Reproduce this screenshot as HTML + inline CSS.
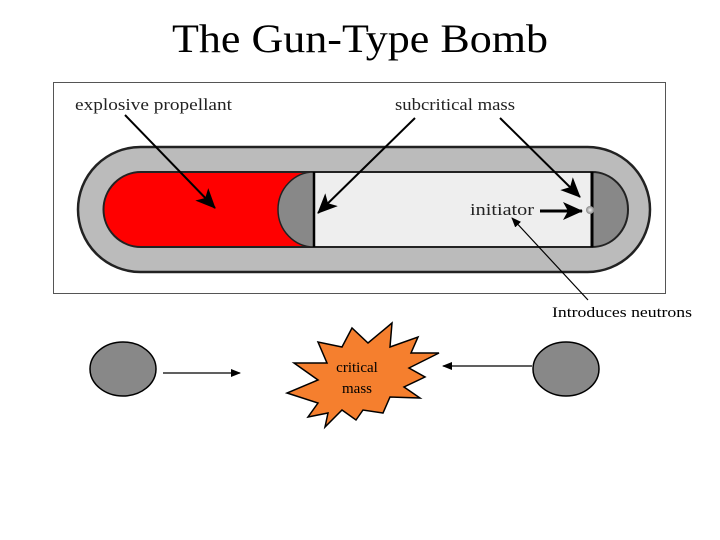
<!DOCTYPE html>
<html><head><style>
html,body{margin:0;padding:0;background:#fff;}
svg{display:block;}
</style></head><body>
<svg width="720" height="540" viewBox="0 0 720 540" xmlns="http://www.w3.org/2000/svg">
<defs>
<marker id="ah" markerWidth="10" markerHeight="10" refX="9" refY="5" orient="auto" markerUnits="userSpaceOnUse"><path d="M0,1 L10,5 L0,9 z" fill="#000"/></marker>
<marker id="big" markerWidth="20" markerHeight="18" refX="19" refY="9" orient="auto" markerUnits="userSpaceOnUse"><path d="M0,0 L20,9 L0,18 L5,9 z" fill="#000"/></marker>
<radialGradient id="dot"><stop offset="0" stop-color="#eee"/><stop offset="1" stop-color="#888"/></radialGradient>
</defs>
<text x="172" y="52" textLength="376" lengthAdjust="spacingAndGlyphs" font-family="Liberation Serif, serif" font-size="40">The Gun-Type Bomb</text>
<rect x="53.5" y="82.5" width="612" height="211" fill="#fff" stroke="#555" stroke-width="1"/>
<rect x="78" y="147" width="572" height="125" rx="62.5" fill="#bbb" stroke="#222" stroke-width="2.5"/>
<path d="M141,172 H314 V247 H141 A37.5,37.5 0 0 1 141,172 Z" fill="#ff0000" stroke="#222" stroke-width="2"/>
<rect x="314" y="172" width="278" height="75" fill="#eee" stroke="#222" stroke-width="2"/>
<path d="M314,172 A36,37.5 0 0 0 314,247 Z" fill="#888" stroke="#222" stroke-width="1.5"/>
<path d="M592,172 A36,37.5 0 0 1 592,247 Z" fill="#888" stroke="#222" stroke-width="2"/>
<line x1="592" y1="172" x2="592" y2="247" stroke="#000" stroke-width="3"/>
<line x1="314" y1="172" x2="314" y2="247" stroke="#000" stroke-width="2.5"/>
<circle cx="590" cy="210" r="4" fill="url(#dot)"/>
<g font-family="Liberation Serif, serif" font-size="17" fill="#222" lengthAdjust="spacingAndGlyphs">
<text x="75" y="110" textLength="157" lengthAdjust="spacingAndGlyphs">explosive propellant</text>
<text x="395" y="110" textLength="120" lengthAdjust="spacingAndGlyphs">subcritical mass</text>
<text x="470" y="215" textLength="64" lengthAdjust="spacingAndGlyphs">initiator</text>
</g>
<g stroke="#000" stroke-width="2">
<line x1="125" y1="115" x2="215" y2="208" marker-end="url(#big)"/>
<line x1="415" y1="118" x2="318" y2="213" marker-end="url(#big)"/>
<line x1="500" y1="118" x2="580" y2="197" marker-end="url(#big)"/>
<line x1="540" y1="211" x2="582" y2="211" stroke-width="3" marker-end="url(#big)"/>
</g>
<line x1="588" y1="300" x2="512" y2="218" stroke="#000" stroke-width="1.2" marker-end="url(#ah)"/>
<text x="552" y="317" textLength="140" lengthAdjust="spacingAndGlyphs" font-family="Liberation Serif, serif" font-size="15">Introduces neutrons</text>
<ellipse cx="123" cy="369" rx="33" ry="27" fill="#888" stroke="#000" stroke-width="1.5"/>
<ellipse cx="566" cy="369" rx="33" ry="27" fill="#888" stroke="#000" stroke-width="1.5"/>
<line x1="163" y1="373" x2="240" y2="373" stroke="#000" stroke-width="1.3" marker-end="url(#ah)"/>
<line x1="532" y1="366" x2="443" y2="366" stroke="#000" stroke-width="1.3" marker-end="url(#ah)"/>
<polygon points="392,323 368,343 352,328 342,347 318,342 327,363 294,363 318,380 287,393 318,403 308,417 328,413 325,427 342,410 356,420 363,410 383,413 390,397 420,398 404,387 425,377 409,368 439,353 411,353 418,337 390,347" fill="#f57f2e" stroke="#000" stroke-width="1.5"/>
<g font-family="Liberation Serif, serif" font-size="15" text-anchor="middle">
<text x="357" y="372">critical</text>
<text x="357" y="393">mass</text>
</g>
</svg>
</body></html>
